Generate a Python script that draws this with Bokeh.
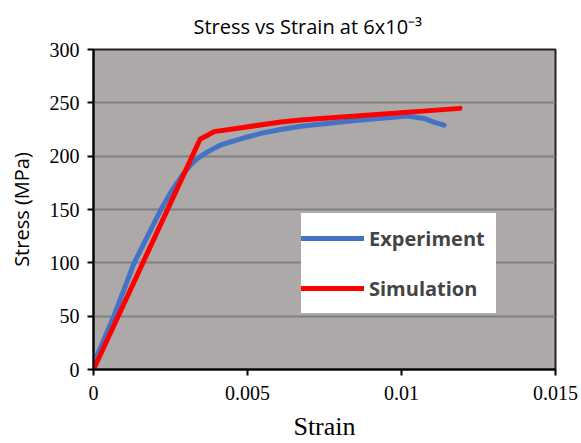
from bokeh.plotting import figure
from bokeh.models import Range1d, Legend, LegendItem, FixedTicker
from bokeh.embed import file_html
from bokeh.resources import INLINE

# Data
exp_strain = [0.0, 0.00066, 0.00132, 0.00219, 0.00255, 0.00293, 0.00316, 0.00338, 0.0037,
              0.00413, 0.005, 0.00553, 0.00608, 0.00673, 0.0085, 0.0102, 0.01073,
              0.01105, 0.01138]
exp_stress = [5.0, 50.0, 100.0, 150.0, 168.0, 184.0, 192.0, 198.0, 204.0,
              210.5, 218.0, 222.0, 225.0, 228.0, 233.5, 237.6, 235.4,
              232.0, 229.0]

sim_strain = [0.0, 0.00346, 0.00392, 0.00608, 0.00673, 0.0119]
sim_stress = [0.0, 215.8, 223.0, 232.0, 234.0, 244.8]

x_ticks = [0, 0.005, 0.01, 0.015]
x_tick_labels = {0: "0", 0.005: "0.005", 0.01: "0.01", 0.015: "0.015"}
y_ticks = [0, 50, 100, 150, 200, 250, 300]

p = figure(width=581, height=443, output_backend="svg", toolbar_location=None,
           x_range=Range1d(0, 0.015), y_range=Range1d(0, 300),
           min_border_left=93, min_border_right=26, min_border_top=40, min_border_bottom=73)

p.title.text = "Stress vs Strain at 6x10\u207b\u00b3"
p.title.text_font = "Open Sans"
p.title.text_font_size = "20px"
p.title.text_font_style = "normal"
p.title.text_color = "black"
p.title.align = "left"
p.title.offset = 100
p.title.standoff = 20

p.background_fill_color = "#ADA9A8"
p.border_fill_color = "white"
p.outline_line_color = "#222222"
p.outline_line_width = 2

p.xgrid.visible = False
p.ygrid.grid_line_color = "#808080"
p.ygrid.grid_line_width = 2
p.ygrid.ticker = FixedTicker(ticks=y_ticks)

p.xaxis.ticker = FixedTicker(ticks=x_ticks)
p.xaxis.major_label_overrides = {k: v for k, v in x_tick_labels.items()}
p.yaxis.ticker = FixedTicker(ticks=y_ticks)

for ax in (p.xaxis[0], p.yaxis[0]):
    ax.axis_line_color = "black"
    ax.axis_line_width = 2
    ax.major_tick_line_color = "black"
    ax.major_tick_line_width = 2
    ax.major_tick_out = 6
    ax.major_tick_in = 0
    ax.minor_tick_line_color = None
    ax.major_label_text_font = "Liberation Serif"
    ax.major_label_text_font_size = "20px"
    ax.major_label_text_color = "black"
    ax.axis_label_text_color = "black"

p.xaxis.axis_label = "Strain"
p.xaxis.axis_label_text_font = "Liberation Serif"
p.xaxis.axis_label_text_font_size = "26px"
p.xaxis.axis_label_text_font_style = "normal"
p.xaxis.axis_label_standoff = 9
p.xaxis.major_label_standoff = 10

p.yaxis.axis_label = "Stress (MPa)"
p.yaxis.axis_label_text_font = "Open Sans"
p.yaxis.axis_label_text_font_size = "20px"
p.yaxis.axis_label_text_font_style = "normal"
p.yaxis.axis_label_standoff = 12
p.yaxis.major_label_standoff = 8

r_exp = p.line(exp_strain, exp_stress, line_color="#4472C4", line_width=5,
               line_join="round", line_cap="round")
r_sim = p.line(sim_strain, sim_stress, line_color="#FF0000", line_width=5,
               line_join="round", line_cap="round")

legend = Legend(items=[LegendItem(label="Experiment", renderers=[r_exp]),
                       LegendItem(label="Simulation", renderers=[r_sim])],
                location=(208, 56))
legend.label_text_font = "Open Sans"
legend.label_text_font_style = "bold"
legend.label_text_font_size = "20px"
legend.glyph_width = 63
legend.glyph_height = 50
legend.label_height = 50
legend.label_width = 127
legend.spacing = 0
legend.padding = 0
legend.margin = 0
legend.border_line_color = None
legend.background_fill_color = "white"
legend.background_fill_alpha = 1.0
legend.label_standoff = 5
p.add_layout(legend, "center")

open("out.html", "w").write(file_html(p, INLINE))
